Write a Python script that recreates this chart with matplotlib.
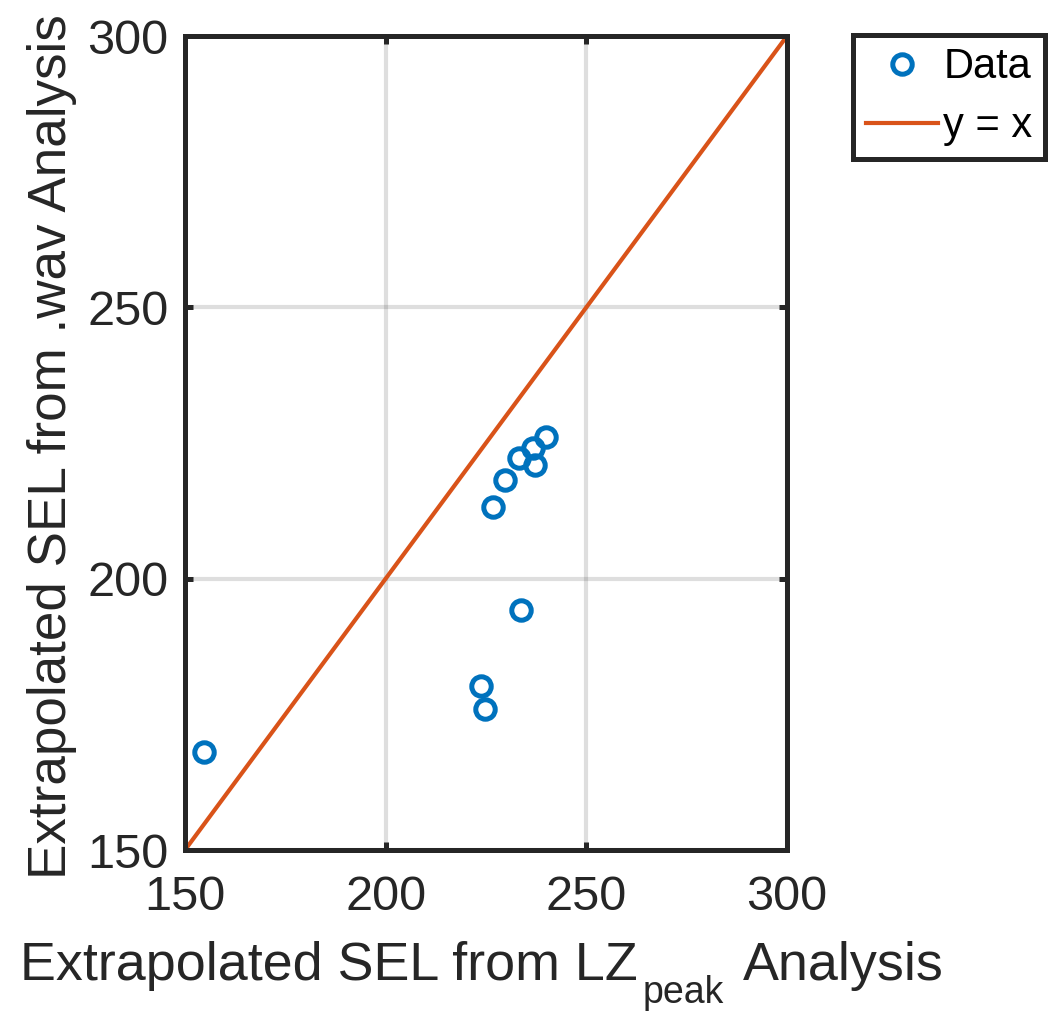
import matplotlib
matplotlib.use("Agg")
import matplotlib.pyplot as plt
import numpy as np

plt.rcParams['font.family'] = ['Liberation Sans', 'DejaVu Sans']

x_lz = [154.7, 223.8, 224.8, 233.7, 226.7, 229.7, 233.2, 236.7, 237.2, 240.0]
y_wav = [168.1, 180.2, 176.0, 194.2, 213.2, 218.2, 222.2, 224.1, 221.0, 226.1]
line_ends = [150, 300]
ticks = [150, 200, 250, 300]

W, H = 1051, 1013
fig = plt.figure(figsize=(W / 100, H / 100), dpi=100)
ax = fig.add_axes([185 / W, 1 - 850 / H, 602 / W, 814 / H])

dark = '#262626'
ax.plot(x_lz, y_wav, 'o', mfc='none', mec='#0072BD', ms=14, mew=3.6, label='Data', zorder=3)
ax.plot(line_ends, line_ends, '-', color='#D95319', lw=3, label='y = x', zorder=2)

ax.set_xlim(150, 300)
ax.set_ylim(150, 300)
ax.set_xticks(ticks)
ax.set_yticks(ticks)
ax.grid(True, color=dark, alpha=0.15, lw=3)
ax.set_axisbelow(True)
ax.tick_params(direction='in', length=6, width=3.6, labelsize=35, top=True, right=True,
               colors=dark)
ax.tick_params(axis='x', pad=18)
ax.tick_params(axis='y', pad=12)
for s in ax.spines.values():
    s.set_linewidth(3.6)
    s.set_color(dark)

ax.set_ylabel('Extrapolated SEL from .wav Analysis', fontsize=38.2, color=dark)
ax.yaxis.set_label_coords((77 - 185) / 602, 0.496)

# x label with a large, lowered subscript
fig.canvas.draw()
r = fig.canvas.get_renderer()
base_y = 1 - 980 / H
t1 = fig.text(20 / W, base_y, 'Extrapolated SEL from LZ', fontsize=38.8, color=dark, va='baseline', ha='left')
x1 = t1.get_window_extent(r).x1
t2 = fig.text((x1 + 5) / W, base_y - 23 / H, 'peak', fontsize=27, color=dark, va='baseline', ha='left')
x2 = t2.get_window_extent(r).x1
t3 = fig.text((x2 + 19) / W, base_y, 'Analysis', fontsize=38.8, color=dark, va='baseline', ha='left')

leg = fig.legend(loc='upper left', bbox_to_anchor=(853 / W, 1 - 35 / H), fontsize=30,
                 frameon=True, fancybox=False, edgecolor=dark, framealpha=1,
                 handlelength=1.75, borderpad=0.3, handletextpad=0.12, labelspacing=0.45,
                 borderaxespad=0)
leg.get_frame().set_linewidth(3.6)

fig.savefig('out.png', dpi=100)
